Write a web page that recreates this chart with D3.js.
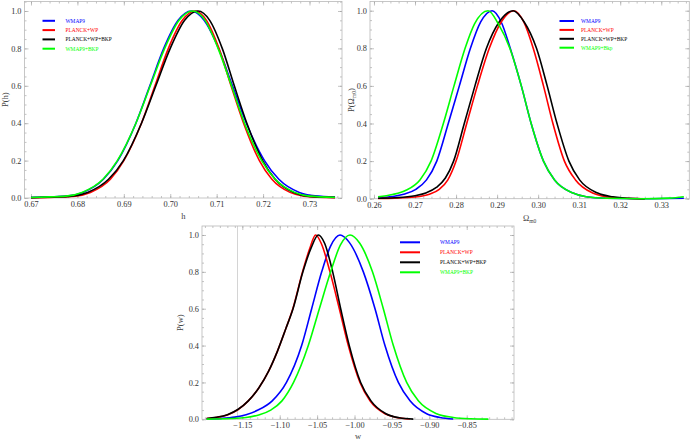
<html>
<head>
<meta charset="utf-8">
<script src="https://d3js.org/d3.v7.min.js"></script>
<style>
  body { margin:0; background:#fff; }
  text { font-family: "Liberation Serif", "Times New Roman", serif; }
</style>
</head>
<body>
<svg id="chart" width="692" height="445"></svg>
<script>
// ---- data ----
var seriesNames = ["WMAP9", "PLANCK+WP", "PLANCK+WP+BKP", "WMAP9+BKP"];
var seriesNamesOm = ["WMAP9", "PLANCK+WP", "PLANCK+WP+BKP", "WMAP9+Bkp"];
var seriesColors = ["#0000ff", "#ff0000", "#000000", "#00ff00"];

var hTicks = [0.67, 0.68, 0.69, 0.70, 0.71, 0.72, 0.73];
var omTicks = [0.26, 0.27, 0.28, 0.29, 0.30, 0.31, 0.32, 0.33];
var wTicks = [-1.15, -1.10, -1.05, -1.00, -0.95, -0.90, -0.85];
var pTicks = [0.0, 0.2, 0.4, 0.6, 0.8, 1.0];

// P(h)
var hWmap9 = [[0.6700,0.003],[0.6740,0.006],[0.6778,0.010],[0.6812,0.030],[0.6856,0.100],[0.6887,0.200],
  [0.6926,0.400],[0.6956,0.600],[0.6986,0.800],[0.7017,0.950],[0.7045,1.000],[0.7073,0.950],[0.7104,0.800],
  [0.7134,0.600],[0.7164,0.400],[0.7203,0.200],[0.7234,0.100],[0.7278,0.030],[0.7312,0.012],[0.7355,0.006]];
var hPlanck = [[0.6700,0.001],[0.6750,0.004],[0.6795,0.010],[0.6828,0.030],[0.6871,0.100],[0.6900,0.200],
  [0.6938,0.400],[0.6967,0.600],[0.6996,0.800],[0.7026,0.950],[0.7053,1.000],[0.7078,0.950],[0.7105,0.800],
  [0.7131,0.600],[0.7158,0.400],[0.7192,0.200],[0.7219,0.100],[0.7258,0.030],[0.7288,0.010],[0.7355,0.002]];
var hPlanckBkp = [[0.6700,0.002],[0.6745,0.005],[0.6787,0.010],[0.6822,0.030],[0.6867,0.100],[0.6899,0.200],
  [0.6938,0.400],[0.6969,0.600],[0.7000,0.800],[0.7031,0.950],[0.7060,1.000],[0.7085,0.950],[0.7112,0.800],
  [0.7138,0.600],[0.7165,0.400],[0.7199,0.200],[0.7226,0.100],[0.7265,0.030],[0.7295,0.010],[0.7355,0.003]];
var hWmap9Bkp = [[0.6700,0.003],[0.6740,0.006],[0.6775,0.010],[0.6810,0.030],[0.6855,0.100],[0.6886,0.200],
  [0.6926,0.400],[0.6957,0.600],[0.6988,0.800],[0.7019,0.950],[0.7048,1.000],[0.7075,0.950],[0.7103,0.800],
  [0.7132,0.600],[0.7160,0.400],[0.7197,0.200],[0.7226,0.100],[0.7268,0.030],[0.7300,0.010],[0.7355,0.004]];

// P(Omega_m0)
var omWmap9 = [[0.2610,0.004],[0.2645,0.012],[0.2675,0.025],[0.2702,0.050],[0.2728,0.100],[0.2753,0.200],
  [0.2781,0.400],[0.2808,0.600],[0.2835,0.800],[0.2860,0.940],[0.2888,1.000],[0.2910,0.940],[0.2932,0.800],
  [0.2959,0.600],[0.2983,0.400],[0.3013,0.200],[0.3040,0.100],[0.3085,0.030],[0.3117,0.010],[0.3166,0.002],
  [0.3250,0.000],[0.3355,0.002]];
var omPlanck = [[0.2610,0.001],[0.2650,0.003],[0.2700,0.009],[0.2735,0.024],[0.2759,0.050],[0.2780,0.100],
  [0.2800,0.200],[0.2826,0.400],[0.2852,0.600],[0.2881,0.800],[0.2910,0.940],[0.2941,1.000],[0.2965,0.940],
  [0.2988,0.800],[0.3013,0.600],[0.3036,0.400],[0.3064,0.200],[0.3091,0.100],[0.3133,0.030],[0.3166,0.010],
  [0.3210,0.002],[0.3260,0.000]];
var omPlanckBkp = [[0.2610,0.002],[0.2650,0.005],[0.2700,0.016],[0.2728,0.032],[0.2752,0.060],[0.2774,0.110],
  [0.2794,0.200],[0.2820,0.400],[0.2846,0.600],[0.2874,0.800],[0.2905,0.940],[0.2939,1.000],[0.2966,0.940],
  [0.2996,0.800],[0.3022,0.600],[0.3046,0.400],[0.3075,0.200],[0.3101,0.100],[0.3145,0.030],[0.3182,0.010],
  [0.3230,0.001],[0.3260,0.000]];
var omWmap9Bkp = [[0.2610,0.010],[0.2645,0.022],[0.2678,0.045],[0.2712,0.100],[0.2739,0.200],[0.2769,0.400],
  [0.2795,0.600],[0.2822,0.800],[0.2845,0.930],[0.2878,1.000],[0.2903,0.930],[0.2931,0.800],[0.2959,0.600],
  [0.2983,0.400],[0.3013,0.200],[0.3040,0.100],[0.3085,0.030],[0.3117,0.010],[0.3166,0.002],[0.3250,0.000],
  [0.3320,0.003],[0.3355,0.010]];

// P(w)
var wWmap9 = [[-1.1977,0.002],[-1.178,0.005],[-1.160,0.012],[-1.145,0.025],[-1.129,0.050],[-1.110,0.100],
  [-1.091,0.200],[-1.0707,0.400],[-1.0573,0.600],[-1.0439,0.800],[-1.032,0.940],[-1.0194,1.000],
  [-1.007,0.960],[-0.9882,0.800],[-0.9726,0.600],[-0.9593,0.400],[-0.9414,0.200],[-0.9258,0.100],[-0.9036,0.030],
  [-0.8857,0.010],[-0.868,0.002]];
var wPlanck = [[-1.1977,0.004],[-1.185,0.010],[-1.170,0.024],[-1.156,0.052],[-1.142,0.100],[-1.128,0.170],
  [-1.115,0.260],[-1.103,0.370],[-1.092,0.490],[-1.0825,0.600],[-1.0695,0.800],[-1.060,0.925],[-1.052,1.000],
  [-1.044,0.950],[-1.0328,0.800],[-1.0203,0.600],[-1.0083,0.400],[-0.9927,0.200],[-0.9793,0.100],[-0.9593,0.030],
  [-0.9437,0.010],[-0.926,0.002]];
var wPlanckBkp = [[-1.1977,0.004],[-1.185,0.011],[-1.170,0.025],[-1.156,0.053],[-1.142,0.100],[-1.128,0.170],
  [-1.115,0.260],[-1.103,0.370],[-1.092,0.490],[-1.0822,0.600],[-1.0690,0.800],[-1.058,0.930],[-1.0484,1.000],
  [-1.040,0.955],[-1.0292,0.800],[-1.0185,0.600],[-1.007,0.400],[-0.9918,0.200],[-0.978,0.100],[-0.958,0.030],
  [-0.940,0.008],[-0.9214,0.001]];
var wWmap9Bkp = [[-1.1977,0.001],[-1.165,0.004],[-1.145,0.010],[-1.127,0.025],[-1.112,0.050],[-1.097,0.100],
  [-1.0815,0.200],[-1.0618,0.400],[-1.047,0.600],[-1.0319,0.800],[-1.019,0.945],[-1.006,1.000],[-0.993,0.955],
  [-0.976,0.800],[-0.9615,0.600],[-0.9481,0.400],[-0.9303,0.200],[-0.9147,0.100],[-0.8902,0.030],[-0.8679,0.010],
  [-0.845,0.003],[-0.8211,0.001]];

// ---- drawing ----
var svg = d3.select("#chart");
svg.append("rect").attr("width", 692).attr("height", 445).attr("fill", "#fff");

var frameColor = "#b8b8b8";
var tickColor = "#9a9a9a";

function drawPanel(cfg) {
    var g = svg.append("g");
    var b = cfg.box; // left, top, right, bottom
    var x = d3.scaleLinear().domain(cfg.xDom).range([b[0], b[2]]);
    var y = d3.scaleLinear().domain(cfg.yDom).range([b[3], b[1]]);

    var xMinor = d3.range(cfg.minorStart, cfg.xDom[1], cfg.minorStep)
        .filter(function(v){ return v > cfg.xDom[0] && v < cfg.xDom[1]; });
    var yMinor = d3.range(0, cfg.yDom[1], 0.05);

    function styleAxis(sel) {
        sel.select(".domain").remove();
        sel.attr("font-family", "Liberation Serif, serif").attr("font-size", 8.3);
        sel.selectAll("line").attr("stroke", tickColor).attr("stroke-width", 0.6);
        sel.selectAll("text").attr("fill", "#333");
    }

    // minor ticks on all four sides
    g.append("g").attr("transform", "translate(0," + b[3] + ")")
        .call(d3.axisBottom(x).tickValues(xMinor).tickFormat("").tickSizeInner(-2).tickSizeOuter(0)).call(styleAxis);
    g.append("g").attr("transform", "translate(0," + b[1] + ")")
        .call(d3.axisTop(x).tickValues(xMinor).tickFormat("").tickSizeInner(-2).tickSizeOuter(0)).call(styleAxis);
    g.append("g").attr("transform", "translate(" + b[0] + ",0)")
        .call(d3.axisLeft(y).tickValues(yMinor).tickFormat("").tickSizeInner(-2).tickSizeOuter(0)).call(styleAxis);
    g.append("g").attr("transform", "translate(" + b[2] + ",0)")
        .call(d3.axisRight(y).tickValues(yMinor).tickFormat("").tickSizeInner(-2).tickSizeOuter(0)).call(styleAxis);

    // major ticks
    g.append("g").attr("transform", "translate(0," + b[3] + ")")
        .call(d3.axisBottom(x).tickValues(cfg.xTicks).tickFormat(d3.format(".2f"))
            .tickSizeInner(-4).tickSizeOuter(0).tickPadding(3)).call(styleAxis);
    g.append("g").attr("transform", "translate(0," + b[1] + ")")
        .call(d3.axisTop(x).tickValues(cfg.xTicks).tickFormat("").tickSizeInner(-4).tickSizeOuter(0)).call(styleAxis);
    g.append("g").attr("transform", "translate(" + b[0] + ",0)")
        .call(d3.axisLeft(y).tickValues(pTicks).tickFormat(d3.format(".1f"))
            .tickSizeInner(-4).tickSizeOuter(0).tickPadding(3)).call(styleAxis);
    g.append("g").attr("transform", "translate(" + b[2] + ",0)")
        .call(d3.axisRight(y).tickValues(pTicks).tickFormat("").tickSizeInner(-4).tickSizeOuter(0)).call(styleAxis);

    // axis line inside the frame (bottom panel)
    if (cfg.axisAt !== undefined) {
        g.append("line")
            .attr("x1", x(cfg.axisAt)).attr("x2", x(cfg.axisAt))
            .attr("y1", b[1]).attr("y2", b[3])
            .attr("stroke", "#c8c8c8").attr("stroke-width", 0.8);
    }

    // frame
    g.append("rect")
        .attr("x", b[0]).attr("y", b[1])
        .attr("width", b[2] - b[0]).attr("height", b[3] - b[1])
        .attr("fill", "none").attr("stroke", frameColor).attr("stroke-width", 0.8);

    // curves
    var line = d3.line()
        .x(function(d){ return x(d[0]); })
        .y(function(d){ return y(d[1]); })
        .curve(d3.curveMonotoneX);
    cfg.series.forEach(function(s, i) {
        g.append("path")
            .attr("d", line(s))
            .attr("fill", "none")
            .attr("stroke", seriesColors[i])
            .attr("stroke-width", 1.6);
    });

    // legend
    cfg.names.forEach(function(name, i) {
        var ly = b[1] + cfg.legend.top + i * cfg.legend.step;
        g.append("line")
            .attr("x1", b[0] + cfg.legend.x1).attr("x2", b[0] + cfg.legend.x2)
            .attr("y1", ly).attr("y2", ly)
            .attr("stroke", seriesColors[i]).attr("stroke-width", 2);
        g.append("text")
            .attr("x", b[0] + cfg.legend.tx).attr("y", ly + 2)
            .attr("font-size", 5.4)
            .attr("fill", seriesColors[i])
            .text(name);
    });

    // axis titles
    var cx = (b[0] + b[2]) / 2;
    var xt = g.append("text")
        .attr("x", cx).attr("y", b[3] + cfg.xLabelDy)
        .attr("text-anchor", "middle")
        .attr("font-size", 8.5)
        .attr("fill", "#444");
    xt.append("tspan").text(cfg.xLabel);
    if (cfg.xSub) xt.append("tspan").attr("font-size", 5.5).attr("dy", 2).text(cfg.xSub);

    var cy = (b[1] + b[3]) / 2;
    var yt = g.append("text")
        .attr("transform", "translate(" + cfg.yLabelX + "," + cy + ") rotate(-90)")
        .attr("text-anchor", "middle")
        .attr("font-size", 8.5)
        .attr("fill", "#444");
    if (cfg.yLabelSub) {
        yt.append("tspan").text("P(" + cfg.yLabel);
        yt.append("tspan").attr("font-size", 5.5).attr("dy", 2).text(cfg.yLabelSub);
        yt.append("tspan").attr("dy", -2).text(")");
    } else {
        yt.text("P(" + cfg.yLabel + ")");
    }
}

drawPanel({
    box: [24.5, 1.5, 342, 198],
    xDom: [0.6686, 0.7370], yDom: [0, 1.0508],
    xTicks: hTicks, minorStart: 0.666, minorStep: 0.002,
    series: [hWmap9, hPlanck, hPlanckBkp, hWmap9Bkp],
    names: seriesNames,
    legend: { top: 19.3, step: 9.3, x1: 18, x2: 30.5, tx: 41 },
    xLabel: "h", xLabelDy: 21, yLabel: "h", yLabelX: 8
});

drawPanel({
    box: [370, 1.5, 689.3, 198.7],
    xDom: [0.25903, 0.33683], yDom: [0, 1.0489],
    xTicks: omTicks, minorStart: 0.258, minorStep: 0.002,
    series: [omWmap9, omPlanck, omPlanckBkp, omWmap9Bkp],
    names: seriesNamesOm,
    legend: { top: 19.5, step: 8.9, x1: 189.5, x2: 204, tx: 211 },
    xLabel: "\u03A9", xSub: "m0", xLabelDy: 22, yLabel: "\u03A9", yLabelSub: "m0", yLabelX: 354
});

drawPanel({
    box: [202, 226, 514, 419.3],
    xDom: [-1.2039, -0.7868], yDom: [0, 1.0488],
    xTicks: wTicks, minorStart: -1.21, minorStep: 0.01,
    series: [wWmap9, wPlanck, wPlanckBkp, wWmap9Bkp],
    names: seriesNames,
    legend: { top: 16.3, step: 10, x1: 198, x2: 218, tx: 238 },
    xLabel: "w", xLabelDy: 20, yLabel: "w", yLabelX: 183,
    axisAt: -1.1564
});
</script>
</body>
</html>
